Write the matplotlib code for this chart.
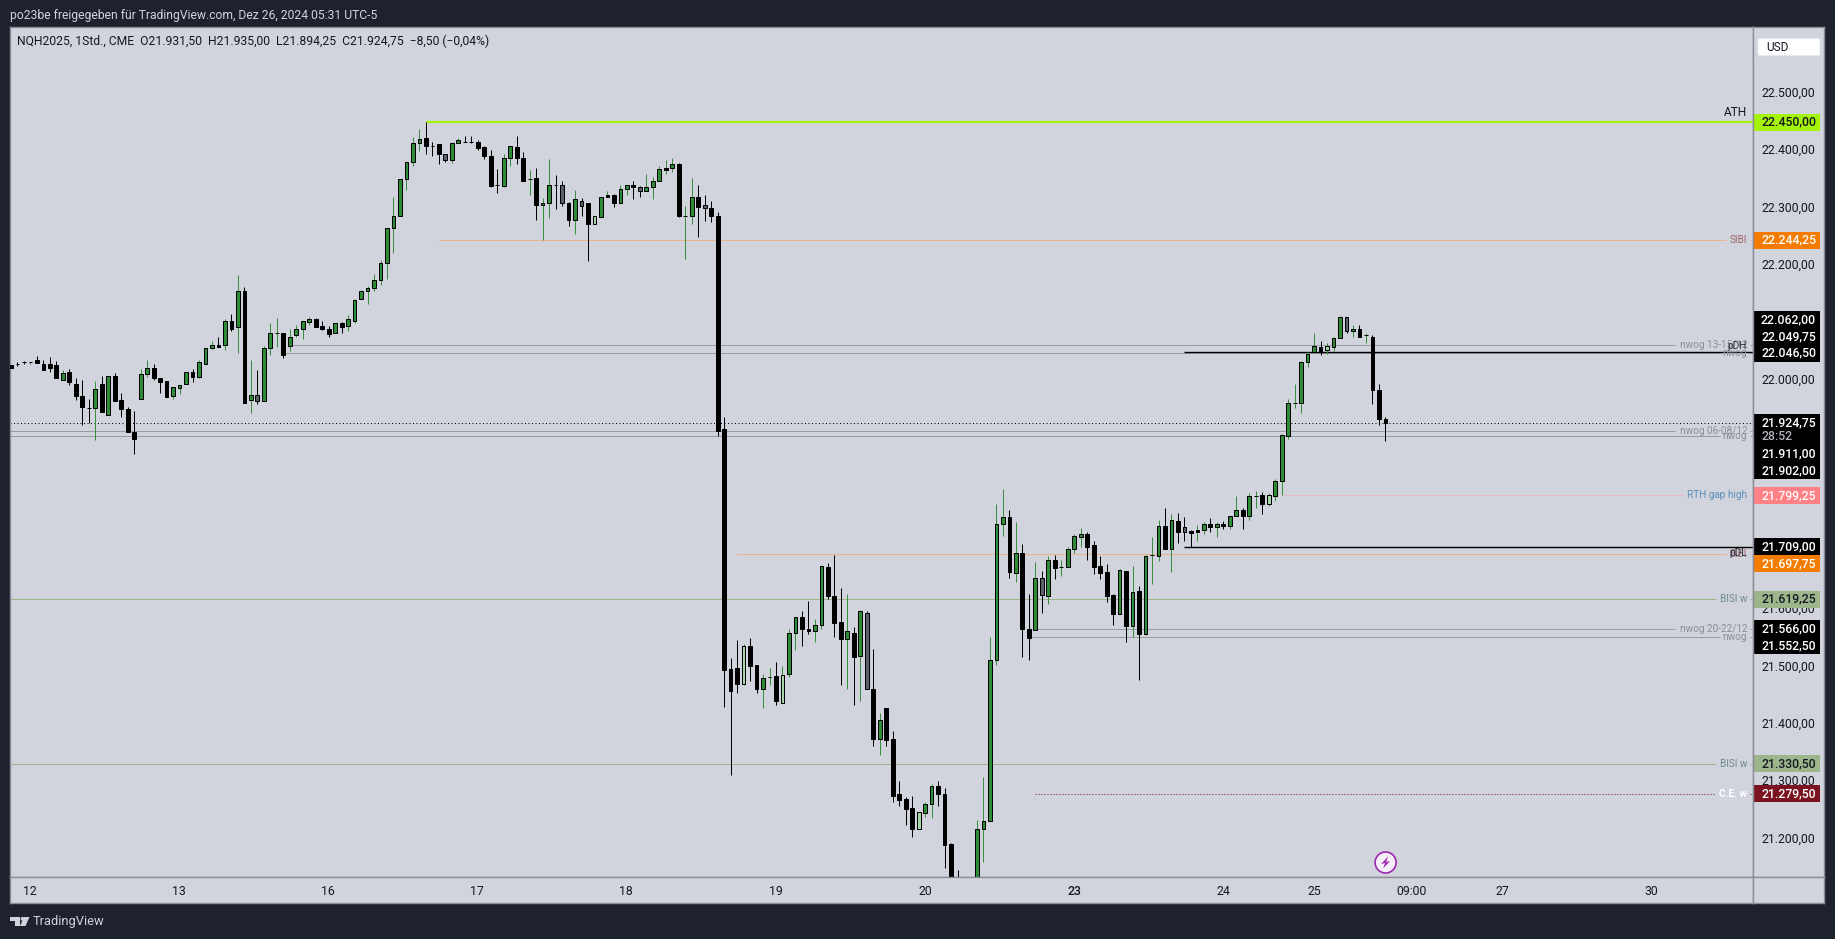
import matplotlib
matplotlib.use("Agg")
import matplotlib.pyplot as plt
from matplotlib.patches import Rectangle, Polygon, FancyBboxPatch, Circle

plt.rcParams['font.family'] = ['Roboto', 'DejaVu Sans']

body_top = [
 22026,22028,22031,22032,22036,22028,22029,22026,22012,22015,
 21994,21972,21951,21984,21993,22007,22007,21965,21949,21909,
 22010,22022,22022,22003,21998,21988,21992,22015,22014,22031,
 22056,22062,22062,22103,22103,22155,22155,21975,21975,22056,
 22083,22083,22083,22076,22089,22103,22106,22106,22094,22090,
 22099,22099,22106,22139,22155,22160,22174,22205,22266,22287,
 22350,22380,22413,22420,22422,22408,22411,22395,22413,22418,
 22416,22415,22415,22406,22390,22340,22388,22408,22406,22388,
 22351,22352,22308,22341,22340,22340,22308,22315,22313,22308,
 22286,22320,22322,22322,22334,22340,22340,22336,22336,22348,
 22368,22369,22376,22376,22287,22319,22319,22305,22300,22287,
 21915,21496,21499,21536,21536,21503,21480,21483,21484,21486,
 21560,21587,21587,21567,21574,21676,21674,21623,21578,21562,
 21560,21597,21595,21461,21407,21428,21374,21279,21270,21254,
 21247,21262,21292,21292,21279,21191,21128,21095,21090,21217,
 21231,21512,21750,21761,21761,21698,21698,21567,21655,21656,
 21686,21686,21674,21705,21728,21731,21731,21712,21676,21665,
 21625,21669,21667,21630,21632,21693,21695,21745,21745,21756,
 21754,21744,21737,21738,21750,21750,21750,21750,21764,21773,
 21773,21798,21798,21799,21799,21825,21904,21960,21961,22031,
 22045,22059,22057,22059,22073,22110,22110,22090,22090,22078,
 22076,21982,21931.5]
body_bottom = [
 22022,22028,22031,22032,22030,22018,22022,22003,22001,21996,
 21973,21953,21951,21951,21944,21940,21963,21949,21909,21898,
 21967,22010,22003,21996,21971,21973,21986,21993,22006,22005,
 22028,22056,22058,22061,22090,22092,21961,21965,21963,21963,
 22056,22083,22044,22060,22078,22089,22101,22093,22090,22081,
 22082,22093,22094,22104,22141,22155,22160,22174,22205,22266,
 22287,22350,22380,22413,22409,22408,22395,22383,22383,22413,
 22416,22415,22405,22390,22338,22340,22339,22388,22388,22348,
 22351,22306,22305,22308,22340,22308,22280,22280,22304,22273,
 22273,22285,22320,22308,22308,22334,22336,22329,22329,22336,
 22348,22367,22369,22287,22287,22287,22302,22300,22287,21912,
 21495,21459,21471,21471,21502,21462,21462,21483,21440,21438,
 21487,21560,21567,21563,21563,21574,21623,21577,21549,21549,
 21518,21519,21461,21375,21375,21373,21276,21269,21253,21218,
 21218,21246,21262,21279,21189,21125,21095,21075,21075,21110,
 21217,21231,21513,21750,21666,21664,21567,21551,21565,21626,
 21624,21673,21674,21674,21705,21727,21710,21675,21664,21624,
 21593,21593,21572,21572,21558,21558,21695,21694,21706,21706,
 21736,21736,21734,21736,21738,21744,21744,21745,21745,21764,
 21763,21763,21798,21784,21785,21798,21825,21902,21961,21961,
 22031,22049,22051,22052,22058,22073,22085,22085,22076,22078,
 21982,21933,21924.75]
highs = [
 22026,22032,22033,22032,22042,22035,22040,22033,22017,22019,
 22003,22001,21967,21998,22007,22008,22012,21977,21953,21947,
 22019,22036,22029,22003,21998,21988,21992,22015,22019,22036,
 22056,22069,22075,22106,22115,22183,22162,22035,22017,22059,
 22099,22108,22083,22089,22097,22103,22110,22108,22104,22094,
 22099,22101,22113,22141,22158,22164,22185,22209,22266,22319,
 22350,22380,22423,22437,22450,22416,22411,22395,22416,22422,
 22425,22425,22418,22409,22401,22368,22394,22408,22425,22397,
 22366,22369,22318,22385,22357,22348,22310,22331,22317,22308,
 22286,22320,22329,22324,22340,22341,22347,22338,22359,22354,
 22374,22383,22387,22378,22303,22352,22340,22322,22312,22294,
 21935,21516,21547,21540,21550,21503,21487,21499,21508,21501,
 21566,21588,21597,21615,21583,21676,21681,21696,21637,21628,
 21569,21599,21597,21531,21419,21428,21388,21301,21273,21276,
 21248,21264,21296,21301,21290,21193,21147,21110,21105,21233,
 21308,21552,21785,21811,21773,21752,21714,21628,21683,21667,
 21693,21696,21686,21709,21731,21742,21735,21719,21693,21679,
 21628,21670,21667,21676,21641,21695,21726,21756,21777,21766,
 21768,21761,21738,21747,21752,21759,21752,21754,21764,21798,
 21778,21803,21806,21805,21803,21827,21907,21968,21994,22033,
 22049,22083,22068,22064,22075,22111,22110,22096,22097,22083,
 22078,21993,21935]
lows = [
 22022,22025,22029,22028,22030,22018,22015,22003,22001,21992,
 21966,21921,21925,21895,21944,21940,21963,21935,21909,21872,
 21967,22006,22001,21978,21970,21968,21976,21993,21996,22003,
 22028,22054,22058,22053,22086,22048,21961,21943,21959,21963,
 22044,22058,22039,22051,22075,22072,22097,22093,22088,22076,
 22082,22083,22086,22100,22141,22133,22156,22166,22177,22222,
 22287,22332,22374,22400,22395,22391,22377,22381,22379,22413,
 22415,22414,22402,22386,22337,22327,22337,22374,22376,22348,
 22323,22280,22244,22283,22299,22304,22268,22254,22287,22207,
 22273,22285,22320,22301,22308,22323,22315,22320,22329,22315,
 22348,22360,22362,22285,22212,22273,22250,22278,22275,21903,
 21431,21312,21454,21469,21475,21455,21429,21469,21433,21438,
 21483,21530,21537,21558,21544,21567,21619,21553,21468,21462,
 21433,21440,21461,21363,21347,21363,21265,21257,21224,21204,
 21218,21239,21237,21258,21150,21120,21085,21060,21060,21100,
 21161,21231,21504,21729,21656,21649,21518,21513,21565,21595,
 21610,21654,21658,21674,21699,21710,21687,21663,21654,21614,
 21574,21593,21544,21553,21478,21555,21644,21685,21706,21666,
 21717,21720,21709,21720,21731,21736,21727,21741,21740,21764,
 21740,21757,21778,21766,21780,21789,21800,21898,21952,21943,
 22023,22049,22044,22046,22051,22073,22083,22076,22076,22065,
 21959,21922,21894.25]
# b black, g green, d grey, l light green, x black body with green wick
candle_kinds = ("bbbxbbbbgb" "bbbgbgbbbb" "ggbbbgggbg" "ggbgbgbgdg"
                "gxbggggbbb" "gbgggggggg" "ggggbbbdgg" "bbbbbbggbb"
                "xbggbdbgdb" "lgxbggbdgg" "gxgbxgbdbb" "bbblbbgxbl"
                "ggbbggbbbg" "bgdbgbbbbb" "lggbbbbbgg" "ggggbgbbgd"
                "gbxgggbbbb" "bgbgbgxgbg" "bdbxgbgbgg" "bgxblgggxg"
                "ggblggdgbx" "bbb")

day_labels = ["12", "13", "16", "17", "18", "19", "20", "23", "24", "25", "09:00", "27", "30"]
day_bars = [2.9, 25.9, 48.9, 71.9, 94.9, 118, 141, 164, 187, 201, 216, 230, 253]
bold_days = ["23"]

price_ticks = [22500, 22400, 22300, 22200, 22000, 21600, 21500, 21400, 21300, 21200]

ath_level = 22450
sibi_levels = [22244.25, 21697.75]
nwog_levels = [22062, 22046.5, 21911, 21902, 21566, 21552.5]
nwog_names = ["nwog 13-15/12", "nwog", "nwog 06-08/12", "nwog", "nwog 20-22/12", "nwog"]
nwog_starts = [43, 42, -0.2, -0.2, 158, 157]
nwog_ends = [256.7, 263.6, 256.7, 263.6, 256.7, 263.6]
pd_levels = [22049.75, 21709]
pd_names = ["pDH", "pDL"]
rth_level = 21799.25
bisi_levels = [21619.25, 21330.5]
ce_level = 21279.5
last_close = 21924.75

tag_texts = ["22.450,00", "22.244,25", "22.062,00", "22.049,75", "22.046,50",
             "21.924,75", "28:52", "21.911,00", "21.902,00", "21.799,25",
             "21.709,00", "21.697,75", "21.619,25", "21.566,00", "21.552,50",
             "21.330,50", "21.279,50"]
tag_prices = [22450, 22244, 22105, 22076, 22047, 21926, 21901, 21872, 21842,
              21799, 21710, 21680, 21618, 21567, 21537, 21331, 21279]
tag_fills = ["#a5f20a", "#f57c00", "#000000", "#000000", "#000000", "#000000", "#000000",
             "#000000", "#000000", "#ff8085", "#000000", "#f57c00", "#9db58a",
             "#000000", "#000000", "#9db58a", "#7b1420"]
tag_inks = ["#131722", "#ffffff", "#ffffff", "#ffffff", "#ffffff", "#ffffff", "#b2b5be",
            "#ffffff", "#ffffff", "#ffffff", "#ffffff", "#ffffff", "#131722",
            "#ffffff", "#ffffff", "#131722", "#ffffff"]

W, H = 1835, 939
DARK = "#1e222d"
PANE = "#d1d4dc"
EDGE = "#8a8d97"
GREEN = "#2e8b36"
WICKG = "#388e3c"
SIBI_LINE = "#e8b48c"


def box(l, t, r, b):
    return [l / W, 1 - b / H, (r - l) / W, (b - t) / H]


fig = plt.figure(figsize=(W / 100, H / 100), dpi=100, facecolor=DARK)
ax = fig.add_axes(box(10, 27, 1753, 877), facecolor=PANE)
ax_r = fig.add_axes(box(1753, 27, 1824, 877), facecolor=PANE)
ax_t = fig.add_axes(box(10, 877, 1753, 903), facecolor=PANE)
ax_c = fig.add_axes(box(1753, 877, 1824, 903), facecolor=PANE)
xlim = (-0.154, 268.7)
ylim = (21134, 22615.6)
ax.set_xlim(*xlim); ax.set_ylim(*ylim)
ax_r.set_xlim(0, 71); ax_r.set_ylim(*ylim)
ax_t.set_xlim(*xlim); ax_t.set_ylim(0, 1)
for a in (ax, ax_r, ax_t, ax_c):
    a.set_xticks([]); a.set_yticks([])
    for s in a.spines.values():
        s.set_color(EDGE); s.set_linewidth(1.0)

LW = 0.72
# horizontal levels
ax.hlines(ath_level, 64, xlim[1], color="#a5f20a", lw=1.6, zorder=3)
ax.text(267.8, ath_level + 6, "ATH", ha="right", va="bottom", fontsize=8.6, color="#131722")
for lev, start in zip(sibi_levels, [66, 112]):
    ax.hlines(lev, start, 264.5, color=SIBI_LINE, lw=LW, zorder=1)
    ax.hlines(lev, 268.2, xlim[1], color=SIBI_LINE, lw=LW, zorder=1)
    ax.text(267.8, lev, "SIBI", ha="right", va="center", fontsize=7.2, color="#a0636a", zorder=5)
for lev, name, s, e in zip(nwog_levels, nwog_names, nwog_starts, nwog_ends):
    ax.hlines(lev, s, e, color="#9a9ca3", lw=LW, zorder=1)
    ax.hlines(lev, 268.2, xlim[1], color="#9a9ca3", lw=LW, zorder=1)
    ax.text(267.8, lev, name, ha="right", va="center", fontsize=7.2, color="#8b8e99", zorder=5)
for lev, name in zip(pd_levels, pd_names):
    ax.hlines(lev, 181, xlim[1], color="#000000", lw=1.0, zorder=2)
    ax.text(267.8, lev + (-10 if name == "pDL" else 9), name, ha="right", va="center",
            fontsize=7.2, color="#2a2e39", zorder=5)
ax.hlines(rth_level, 196, 257.9, color="#e3b8c0", lw=LW, zorder=1)
ax.hlines(rth_level, 268.2, xlim[1], color="#e3b8c0", lw=LW, zorder=1)
ax.text(267.8, rth_level, "RTH gap high", ha="right", va="center", fontsize=7.2, color="#5b8fb9", zorder=5)
for lev in bisi_levels:
    ax.hlines(lev, xlim[0], 263, color="#9db58a", lw=LW, zorder=1)
    ax.hlines(lev, 268.2, xlim[1], color="#9db58a", lw=LW, zorder=1)
    ax.text(267.8, lev, "BISI w", ha="right", va="center", fontsize=7.2, color="#6f8a8c", zorder=5)
ax.hlines(ce_level, 158, 262.7, color="#7b1420", lw=LW, linestyles=(0, (1, 2)), zorder=1)
ax.hlines(ce_level, 268.2, xlim[1], color="#7b1420", lw=LW, linestyles=(0, (1, 2)), zorder=1)
ax.text(267.8, ce_level, "C.E. w", ha="right", va="center", fontsize=7.2, color="#ffffff",
        fontweight="bold", zorder=5)
ax.hlines(last_close, xlim[0], xlim[1], color="#000000", lw=LW, linestyles=(0, (1, 2.5)), zorder=2)

# candles
fill_map = {"b": "#000000", "x": "#000000", "g": GREEN, "d": "#5d606b", "l": "#a5d6a7"}
wick_map = {"b": "#000000", "x": WICKG, "g": WICKG, "d": "#000000", "l": WICKG}
xs = list(range(len(body_top)))
assert all(len(v) == 213 for v in (body_top, body_bottom, highs, lows, candle_kinds))
ax.vlines(xs, lows, highs, colors=[wick_map[k] for k in candle_kinds], lw=LW, zorder=3)
ax.bar(xs, [t - b for t, b in zip(body_top, body_bottom)], bottom=body_bottom, width=0.58,
       color=[fill_map[k] for k in candle_kinds], edgecolor="#000000", linewidth=LW, zorder=4)

# legend line
fig.text(17 / W, 1 - 41.5 / H, "NQH2025, 1Std., CME  O21.931,50  H21.935,00  L21.894,25  C21.924,75  \u22128,50 (\u22120,04%)",
         ha="left", va="center", fontsize=8.7, color="#131722")
fig.text(10 / W, 1 - 15 / H, "po23be freigegeben f\u00fcr TradingView.com, Dez 26, 2024 05:31 UTC-5",
         ha="left", va="center", fontsize=8.7, color="#d1d4dc")

# price axis
for p in price_ticks:
    ax_r.text(35.5, p, f"{p:,.2f}".replace(",", "X").replace(".", ",").replace("X", "."),
              ha="center", va="center", fontsize=8.8, color="#131722", zorder=1)
tag_h = 17 * (ylim[1] - ylim[0]) / 850
for txt, p, fc, ink in zip(tag_texts, tag_prices, tag_fills, tag_inks):
    ax_r.add_patch(Rectangle((1, p - tag_h / 2), 66, tag_h, facecolor=fc, edgecolor="none", zorder=2))
    ax_r.text(35.5 if txt != "28:52" else 8.5, p, txt, ha="center" if txt != "28:52" else "left",
              va="center", fontsize=8.8, color=ink, fontweight="medium", zorder=3)
ax_r.add_patch(FancyBboxPatch((5, 22615.6 - 50), 62, 30, boxstyle="round,pad=0,rounding_size=2",
                              mutation_aspect=1.7, facecolor="#ffffff", edgecolor="#e6e8ee", lw=0.7, zorder=3))
ax_r.text(13, 22615.6 - 35, "USD", ha="left", va="center", fontsize=8.6, color="#131722", zorder=4)

# time axis
for lab, b in zip(day_labels, day_bars):
    ax_t.text(b, 0.46, lab, ha="center", va="center", fontsize=8.8, color="#131722",
              fontweight="medium" if lab in bold_days else "normal")

# bolt marker on the chart
cx, cy = 1385.6, 862.5
ov = fig.add_axes([0, 0, 1, 1], facecolor="none")
ov.set_xlim(0, W); ov.set_ylim(H, 0); ov.axis("off")
ov.add_patch(Circle((cx, cy), 10.5, facecolor="#f6eef8", edgecolor="#9c27b0", lw=1.2))
ov.add_patch(Polygon([(cx + 2.5, cy - 6), (cx - 4.5, cy + 1.5), (cx - 0.5, cy + 0.5), (cx - 2.5, cy + 6),
                      (cx + 4.5, cy - 1.5), (cx + 0.5, cy - 0.5)], facecolor="#9c27b0", edgecolor="none"))
# footer logo
logo = "#d1d4dc"
ov.add_patch(Polygon([(10, 917), (20, 917), (20, 926), (15, 926), (15, 921), (10, 921)], facecolor=logo, edgecolor="none"))
ov.add_patch(Circle((22.5, 918.8), 1.9, facecolor=logo, edgecolor="none"))
ov.add_patch(Polygon([(24, 917), (29.5, 917), (25.5, 926), (20, 926)], facecolor=logo, edgecolor="none"))
ov.text(33, 921, "TradingView", ha="left", va="center", fontsize=9.3, color="#d1d4dc")

fig.savefig("out.png", dpi=100, facecolor=DARK)
